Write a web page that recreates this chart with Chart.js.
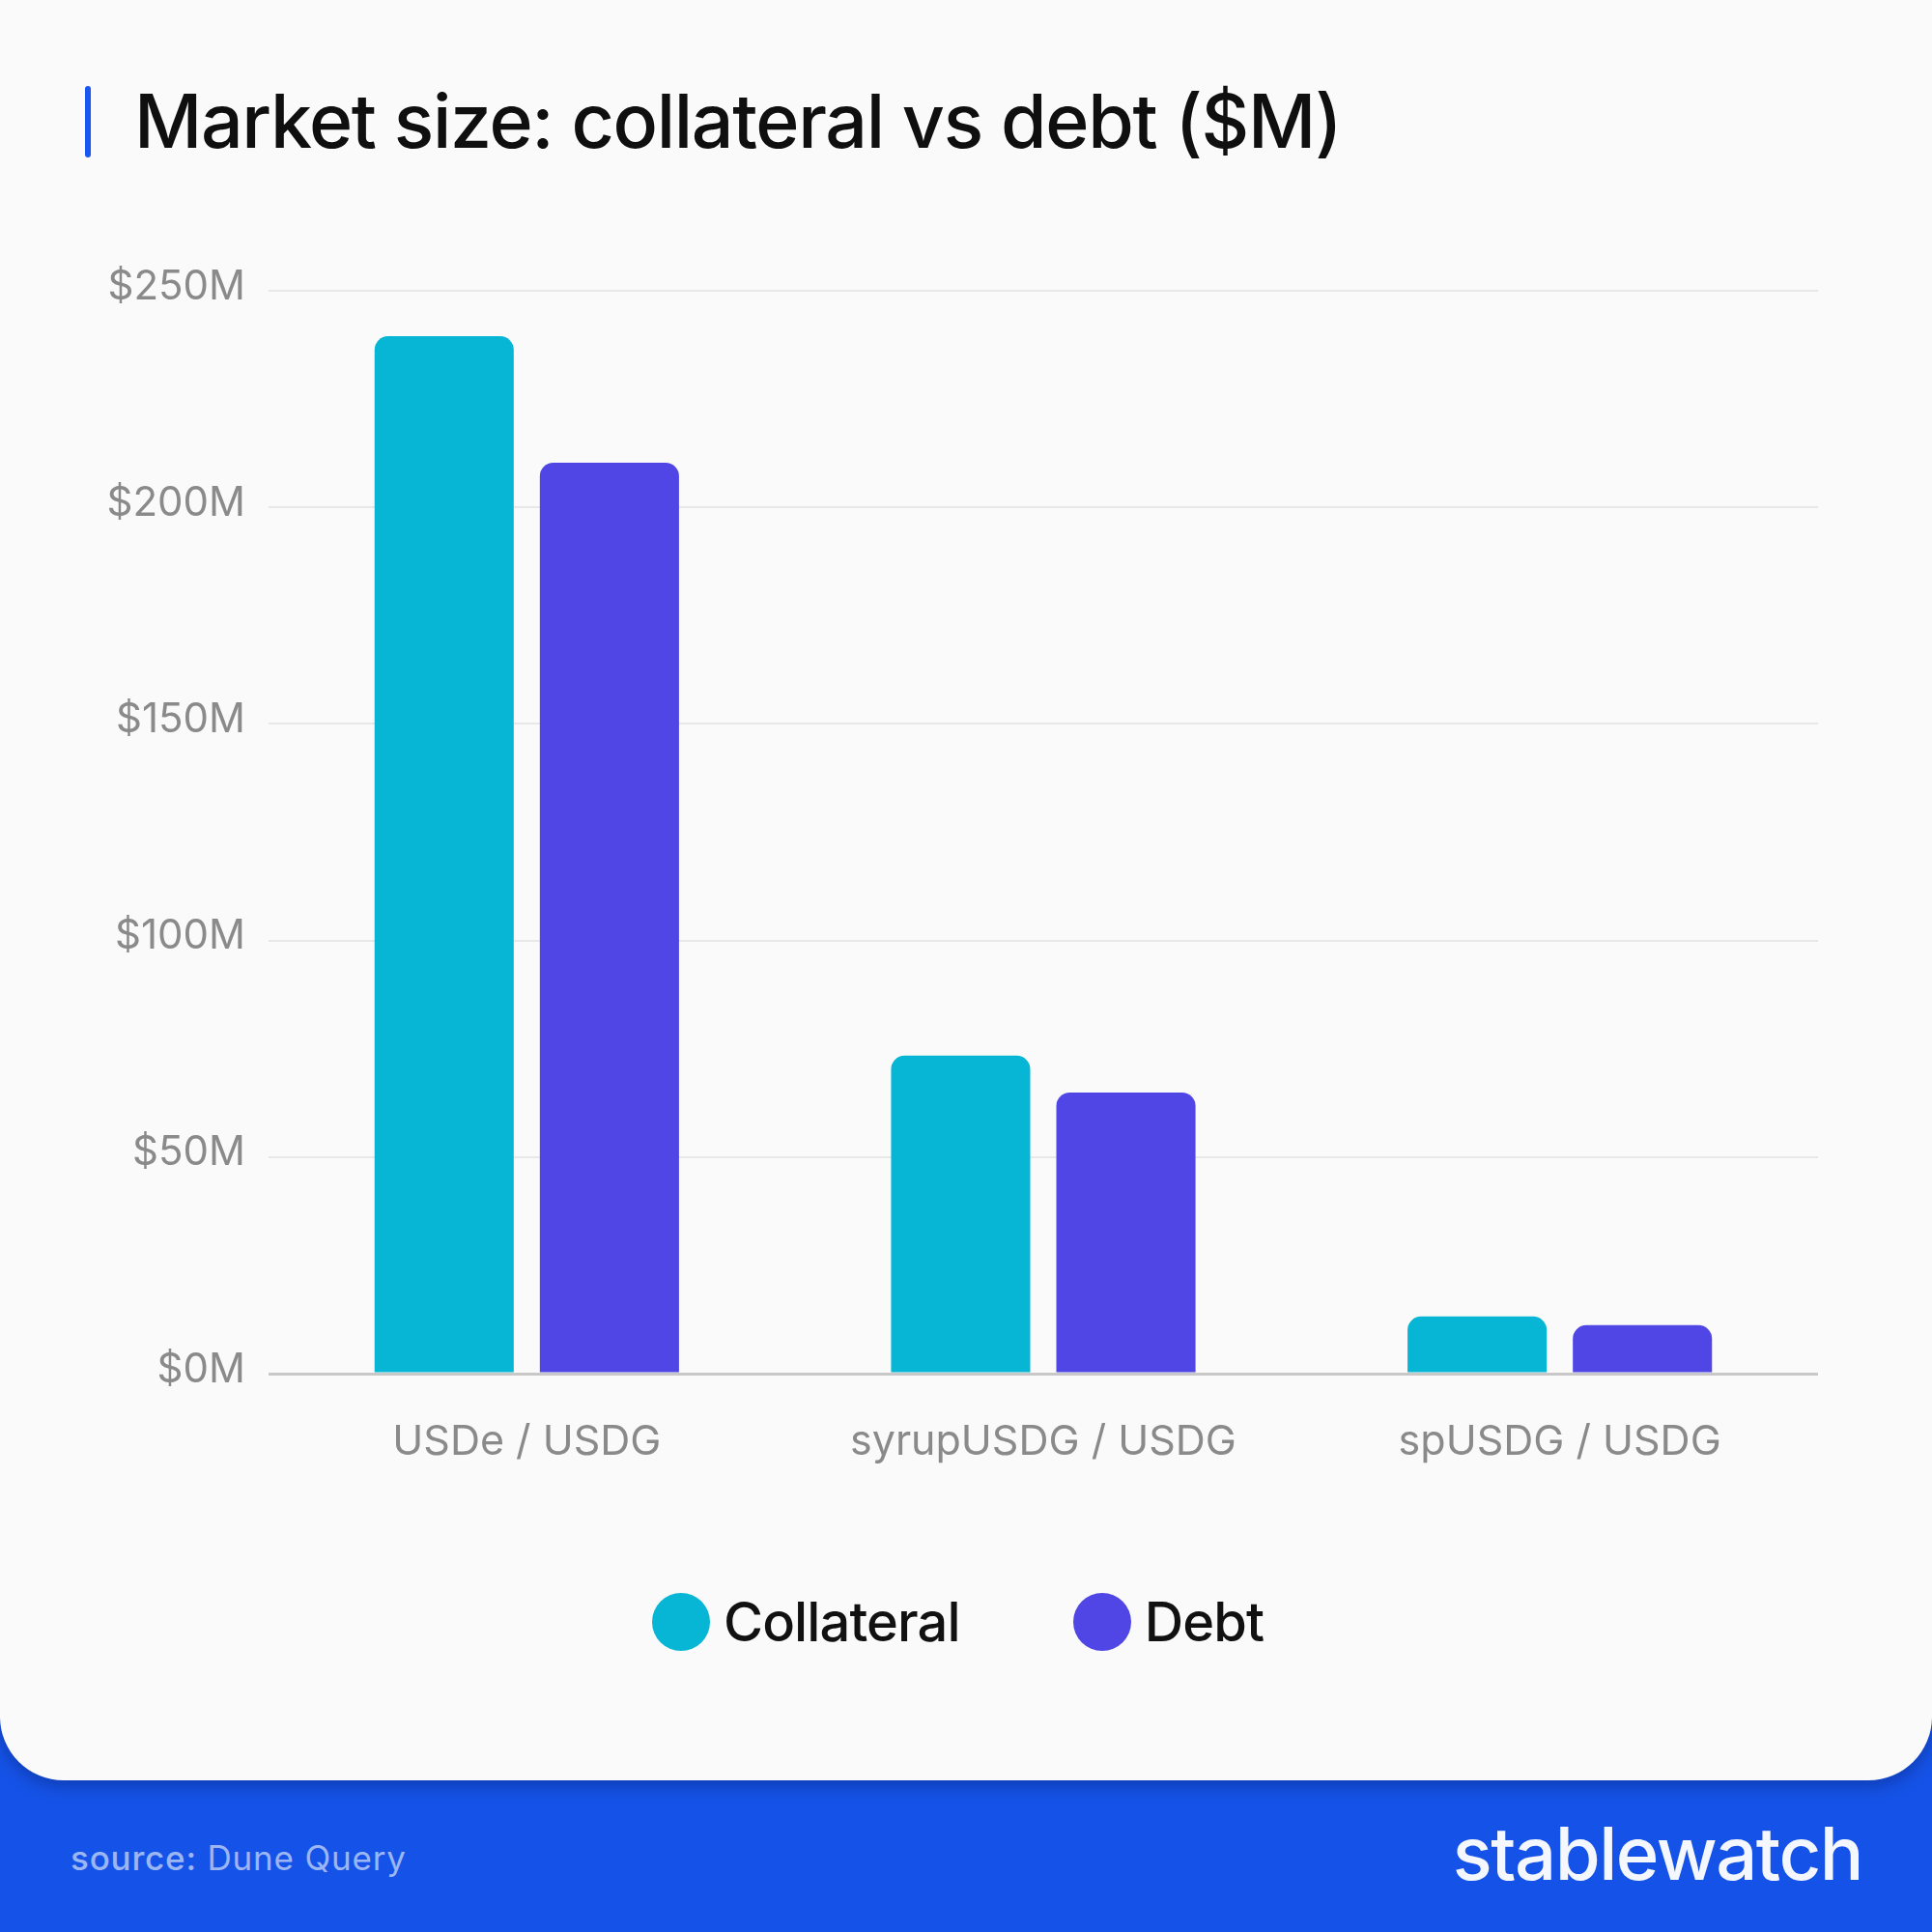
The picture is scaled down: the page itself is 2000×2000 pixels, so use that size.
<!DOCTYPE html>
<html>
<head>
<meta charset="utf-8">
<script src="https://cdn.jsdelivr.net/npm/chart.js@4.4.1/dist/chart.umd.min.js"></script>
<style>
  html, body { margin: 0; padding: 0; }
  body { width: 2000px; height: 2000px; background: #1553e8; position: relative; overflow: hidden; font-family: Inter, "Noto Sans", sans-serif; }
  #card { position: absolute; left: 0; top: 0; width: 2000px; height: 1843px; background: #fafafa; border-radius: 0 0 66px 66px; box-shadow: 0 6px 18px rgba(0,0,40,0.28); }
  #titlebar { position: absolute; left: 88px; top: 89px; width: 6px; height: 74px; background: #1a56f0; border-radius: 3px; }
  #title { position: absolute; left: 139px; top: 87px; font-size: 77px; line-height: 1; font-weight: 500; color: #0f0f0f; white-space: nowrap; letter-spacing: -1.35px; }
  #chartwrap { position: absolute; left: 0; top: 0; width: 2000px; height: 1560px; }
  #legend { position: absolute; left: 675px; top: 1649px; height: 60px; display: flex; align-items: center; }
  .litem { display: flex; align-items: center; }
  .ldot { width: 60px; height: 60px; border-radius: 50%; margin-right: 14px; }
  .ltext { font-size: 56px; line-height: 1; font-weight: 500; color: #111; white-space: nowrap; letter-spacing: -0.9px; }
  #source { position: absolute; left: 73px; top: 1906px; font-size: 35px; line-height: 1; color: #9cb6f4; white-space: nowrap; letter-spacing: 0.8px; }
  #source b { font-weight: 500; }
  #logo { position: absolute; right: 72px; top: 1880px; font-size: 76px; line-height: 1; font-weight: 500; color: #f5f7ff; white-space: nowrap; letter-spacing: -1.5px; }
</style>
</head>
<body>
<div id="card">
  <div id="titlebar"></div>
  <div id="title">Market size: collateral vs debt ($M)</div>
  <div id="chartwrap"><canvas id="c" width="2000" height="1560" style="width:2000px;height:1560px"></canvas></div>
  <div id="legend"></div>
</div>
<div id="source"><b>source:</b> Dune Query</div>
<div id="logo">stablewatch</div>
<script>
const categories = ['USDe / USDG', 'syrupUSDG / USDG', 'spUSDG / USDG'];
const collateral = [239.5, 73.4, 13.2];
const debt = [210.3, 64.9, 11.2];
const yTicks = [0, 50, 100, 150, 200, 250];
const seriesNames = ['Collateral', 'Debt'];
const seriesColors = ['#06b6d4', '#4f46e5'];

const chart = new Chart(document.getElementById('c'), {
  type: 'bar',
  data: {
    labels: categories,
    datasets: [
      { label: seriesNames[0], data: collateral, backgroundColor: seriesColors[0] },
      { label: seriesNames[1], data: debt, backgroundColor: seriesColors[1] }
    ]
  },
  options: {
    responsive: false,
    devicePixelRatio: 1,
    animation: false,
    categoryPercentage: 0.64,
    barPercentage: 0.842,
    datasets: { bar: { borderRadius: { topLeft: 14, topRight: 14, bottomLeft: 0, bottomRight: 0 }, borderSkipped: 'start' } },
    layout: { padding: { top: 301, right: 118, left: 0, bottom: 0 } },
    plugins: { legend: { display: false }, tooltip: { enabled: false }, title: { display: false } },
    scales: {
      x: {
        grid: { display: false },
        border: { display: false },
        ticks: { color: '#8a8a8a', font: { family: 'Inter', size: 43 }, padding: 37 },
        afterFit: (s) => { s.height = 138; }
      },
      y: {
        min: 0, max: 250,
        afterBuildTicks: (s) => { s.ticks = yTicks.map(v => ({ value: v })); },
        grid: {
          drawTicks: false,
          color: (c) => c.tick && c.tick.value === 0 ? '#c8c8c8' : '#e7e7e7',
          lineWidth: (c) => c.tick && c.tick.value === 0 ? 3 : 2
        },
        border: { display: false },
        ticks: { color: '#8a8a8a', font: { family: 'Inter', size: 42 }, padding: 24, labelOffset: -4, callback: (v) => '$' + v + 'M' },
        afterFit: (s) => { s.width = 278; }
      }
    }
  }
});

const legend = document.getElementById('legend');
chart.data.datasets.forEach((ds, i) => {
  const item = document.createElement('div');
  item.className = 'litem';
  if (i > 0) item.style.marginLeft = '117px';
  const dot = document.createElement('div');
  dot.className = 'ldot';
  dot.style.background = ds.backgroundColor;
  const t = document.createElement('div');
  t.className = 'ltext';
  t.textContent = ds.label;
  item.appendChild(dot); item.appendChild(t);
  legend.appendChild(item);
});
</script>
</body>
</html>
